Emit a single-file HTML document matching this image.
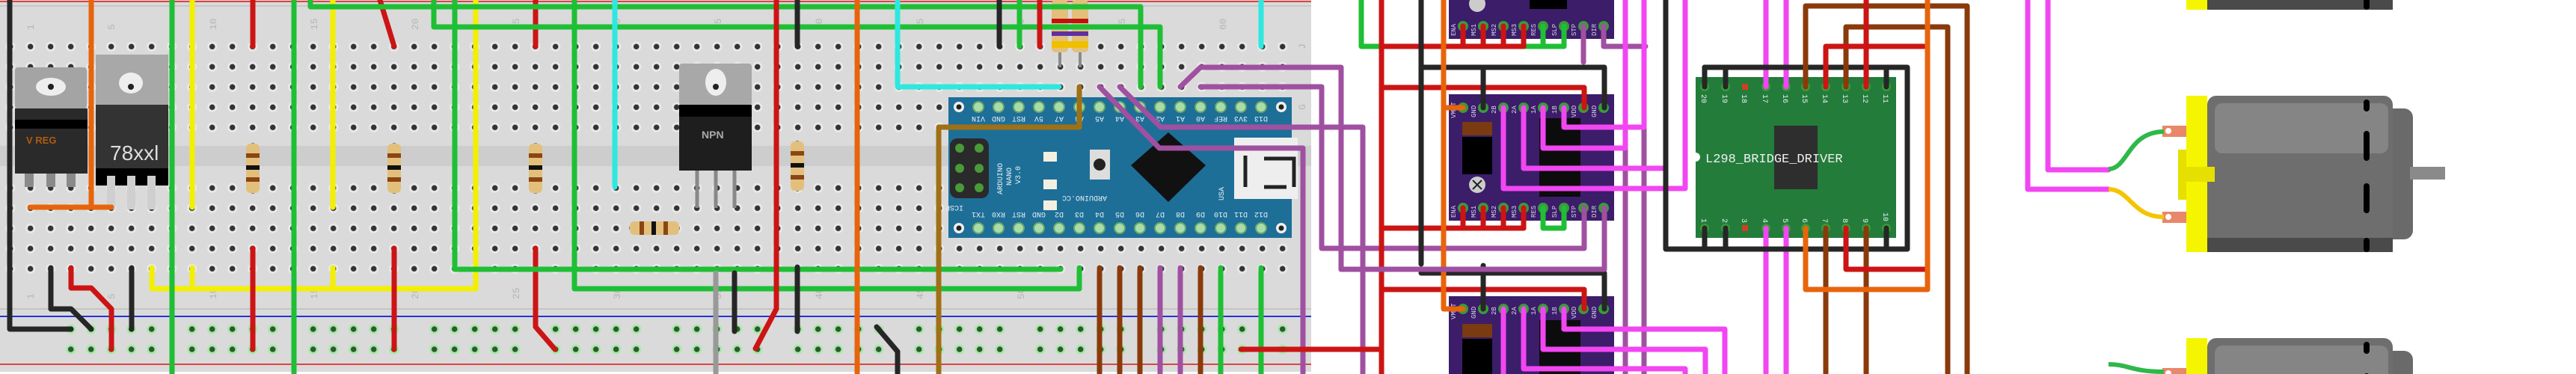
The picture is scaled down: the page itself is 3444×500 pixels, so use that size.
<!DOCTYPE html>
<html><head><meta charset="utf-8"><style>
html,body{margin:0;padding:0;background:#fff;width:3444px;height:500px;overflow:hidden}
svg{display:block;overflow:hidden}
.w{fill:none;stroke-width:7;stroke-linecap:round;stroke-linejoin:round}
.g{stroke:#1fbf35}.r{stroke:#cc1414}.k{stroke:#262626}.o{stroke:#e8640c}.y{stroke:#f2ef00}
.c{stroke:#2ee8e0}.b{stroke:#8a3a0a}.p{stroke:#a050a0}.m{stroke:#f246f2}.au{stroke:#a07015}.gr{stroke:#999}
.lbl{font-family:"Liberation Mono",monospace;fill:#b5b5b5;font-size:13px}
.dl{font-family:"Liberation Mono",monospace;fill:#d8d0e8;font-size:9px}
.al{font-family:"Liberation Mono",monospace;fill:#e8f0f4;font-size:10px}
</style></head><body>
<svg width="3444" height="500" viewBox="0 0 3444 500" xmlns="http://www.w3.org/2000/svg">
<defs>
<clipPath id="frame"><rect x="0" y="0" width="3444" height="500"/></clipPath>
<pattern id="hp" x="0.2" y="48.8" width="27" height="27" patternUnits="userSpaceOnUse">
<circle cx="13.5" cy="13.5" r="6.5" fill="#eaeaea"/><circle cx="13.5" cy="13.5" r="3.8" fill="#333"/></pattern>
<pattern id="rp" x="81.2" y="426.5" width="162" height="27" patternUnits="userSpaceOnUse">
<g fill="#a8e8a8"><circle cx="13.5" cy="13.5" r="6.5"/><circle cx="40.5" cy="13.5" r="6.5"/><circle cx="67.5" cy="13.5" r="6.5"/><circle cx="94.5" cy="13.5" r="6.5"/><circle cx="121.5" cy="13.5" r="6.5"/></g>
<g fill="#2d5a2d"><circle cx="13.5" cy="13.5" r="3.8"/><circle cx="40.5" cy="13.5" r="3.8"/><circle cx="67.5" cy="13.5" r="3.8"/><circle cx="94.5" cy="13.5" r="3.8"/><circle cx="121.5" cy="13.5" r="3.8"/></g></pattern>
<g id="motor">
<rect x="28" y="17" width="275" height="175" rx="12" fill="#6a6a6a"/>
<rect x="28" y="0" width="248" height="209" rx="12" fill="#6e6e6e"/>
<rect x="38" y="10" width="232" height="67" rx="10" fill="#858585"/>
<rect x="28" y="190" width="248" height="19" fill="#4a4a4a"/>
<rect x="237" y="5" width="8" height="16" rx="4" fill="#000"/>
<rect x="237" y="47" width="8" height="40" rx="4" fill="#000"/>
<rect x="237" y="117" width="8" height="40" rx="4" fill="#000"/>
<rect x="237" y="190" width="8" height="19" rx="4" fill="#000"/>
<rect x="299" y="95" width="47" height="17" fill="#8a8a8a"/>
<rect x="0" y="0" width="28" height="209" fill="#f5f500"/>
<rect x="-11" y="72" width="11" height="67" fill="#e6e000"/>
<rect x="0" y="95" width="38" height="20" fill="#e6e000"/>
<rect x="-32" y="40" width="32" height="15" fill="#e8876a"/><circle cx="-24" cy="47" r="4" fill="#fff"/>
<rect x="-32" y="155" width="32" height="15" fill="#e8876a"/><circle cx="-24" cy="162" r="4" fill="#fff"/>
</g>
<g id="res">
<line x1="0" y1="-34" x2="0" y2="34" stroke="#8a8a8a" stroke-width="4"/>
<rect x="-9" y="-33" width="18" height="66" rx="6" fill="#e2c07c"/>
<rect x="-9" y="-20" width="18" height="6" fill="#8b4513"/>
<rect x="-9" y="-4" width="18" height="6" fill="#111"/>
<rect x="-9" y="12" width="18" height="6" fill="#8b4513"/>
</g>
</defs>
<g clip-path="url(#frame)">
<!-- breadboard -->
<rect x="0" y="0" width="1753" height="497" fill="#dadada"/>
<line x1="0" y1="2" x2="1753" y2="2" stroke="#d44" stroke-width="2"/>
<line x1="0" y1="8" x2="1753" y2="8" stroke="#c8c8c8" stroke-width="2"/>
<rect x="0" y="195" width="1753" height="27" fill="#cdcdcd"/>
<line x1="0" y1="413" x2="1753" y2="413" stroke="#c4c4c4" stroke-width="2"/>
<line x1="0" y1="423" x2="1753" y2="423" stroke="#2233dd" stroke-width="2"/>
<line x1="0" y1="487" x2="1753" y2="487" stroke="#d44" stroke-width="2"/>
<rect x="0" y="48" width="1728" height="136" fill="url(#hp)"/>
<rect x="0" y="237" width="1728" height="136" fill="url(#hp)"/>
<rect x="81" y="426" width="1650" height="54" fill="url(#rp)"/>
<g class="lbl">
<text transform="translate(45,40) rotate(-90)">1</text><text transform="translate(153,40) rotate(-90)">5</text>
<text transform="translate(289,40) rotate(-90)">10</text><text transform="translate(424,40) rotate(-90)">15</text>
<text transform="translate(559,40) rotate(-90)">20</text><text transform="translate(694,40) rotate(-90)">25</text>
<text transform="translate(829,40) rotate(-90)">30</text><text transform="translate(964,40) rotate(-90)">35</text>
<text transform="translate(1099,40) rotate(-90)">40</text><text transform="translate(1234,40) rotate(-90)">45</text>
<text transform="translate(1369,40) rotate(-90)">50</text><text transform="translate(1504,40) rotate(-90)">55</text>
<text transform="translate(1639,40) rotate(-90)">60</text>
<text transform="translate(45,400) rotate(-90)">1</text><text transform="translate(153,400) rotate(-90)">5</text>
<text transform="translate(289,400) rotate(-90)">10</text><text transform="translate(424,400) rotate(-90)">15</text>
<text transform="translate(559,400) rotate(-90)">20</text><text transform="translate(694,400) rotate(-90)">25</text>
<text transform="translate(829,400) rotate(-90)">30</text><text transform="translate(964,400) rotate(-90)">35</text>
<text transform="translate(1099,400) rotate(-90)">40</text><text transform="translate(1234,400) rotate(-90)">45</text>
<text transform="translate(1369,400) rotate(-90)">50</text>
<text transform="translate(1745,66) rotate(-90)">J</text><text transform="translate(1745,147) rotate(-90)">G</text>
</g>

<!-- V REG -->
<rect x="20" y="90" width="96" height="56" rx="4" fill="#a4a4a4"/>
<ellipse cx="68" cy="116" rx="20" ry="12" fill="#eee"/><circle cx="68" cy="116" r="4" fill="#222"/>
<rect x="20" y="145" width="97" height="87" fill="#2a2a2a"/><rect x="20" y="160" width="97" height="12" fill="#000"/>
<text x="35" y="192" font-family="Liberation Sans,sans-serif" font-size="13" font-weight="bold" fill="#b05a10">V REG</text>
<g fill="#8a8a8a"><rect x="33" y="232" width="12" height="18"/><rect x="62" y="232" width="12" height="18"/><rect x="89" y="232" width="12" height="18"/></g>
<!-- 78xxl -->
<rect x="128" y="73" width="97" height="68" fill="#a8a8a8"/>
<ellipse cx="175" cy="111" rx="16" ry="14" fill="#eee"/><circle cx="175" cy="116" r="4" fill="#222"/>
<rect x="128" y="140" width="97" height="108" fill="#333"/><rect x="128" y="225" width="97" height="23" fill="#000"/>
<text x="147" y="214" font-family="Liberation Sans,sans-serif" font-size="28" fill="#ddd">78xxl</text>
<g fill="#cfcfcf"><rect x="143" y="235" width="11" height="45"/><rect x="170" y="235" width="11" height="45"/><rect x="197" y="235" width="11" height="45"/></g>
<!-- NPN -->
<rect x="908" y="85" width="97" height="56" rx="4" fill="#a8a8a8"/>
<ellipse cx="957" cy="110" rx="14" ry="18" fill="#eee"/><circle cx="957" cy="116" r="4" fill="#222"/>
<rect x="908" y="140" width="97" height="88" fill="#1e1e1e"/><rect x="908" y="140" width="97" height="16" fill="#000"/>
<text x="938" y="185" font-family="Liberation Sans,sans-serif" font-size="14" font-weight="bold" fill="#aaa">NPN</text>
<g stroke="#888" stroke-width="5"><line x1="932" y1="228" x2="932" y2="278"/><line x1="957" y1="228" x2="957" y2="278"/><line x1="982" y1="228" x2="982" y2="278"/></g>
<!-- resistors -->
<use href="#res" x="338" y="225"/><use href="#res" x="527" y="225"/><use href="#res" x="716" y="225"/><use href="#res" x="1066" y="222"/>
<g transform="translate(875,305) rotate(-90)"><use href="#res"/></g>
<g><line x1="1417" y1="0" x2="1417" y2="90" stroke="#8a8a8a" stroke-width="4"/><line x1="1444" y1="0" x2="1444" y2="90" stroke="#8a8a8a" stroke-width="4"/>
<rect x="1406" y="0" width="22" height="70" rx="5" fill="#e2c07c"/><rect x="1433" y="0" width="22" height="70" rx="5" fill="#e2c07c"/>
<g fill="#c01010"><rect x="1406" y="25" width="49" height="6"/></g><g fill="#6030a0"><rect x="1406" y="42" width="49" height="6"/></g><g fill="#f0c000"><rect x="1406" y="55" width="49" height="9"/></g></g>

<!-- Arduino -->
<rect x="1268" y="130" width="459" height="188" fill="#1d6f98"/>
<g fill="#a8dca8" stroke="#6aa66a" stroke-width="2">
<circle cx="1308" cy="143" r="7"/><circle cx="1335" cy="143" r="7"/><circle cx="1362" cy="143" r="7"/><circle cx="1389" cy="143" r="7"/><circle cx="1416" cy="143" r="7"/><circle cx="1443" cy="143" r="7"/><circle cx="1470" cy="143" r="7"/><circle cx="1497" cy="143" r="7"/><circle cx="1524" cy="143" r="7"/><circle cx="1551" cy="143" r="7"/><circle cx="1578" cy="143" r="7"/><circle cx="1605" cy="143" r="7"/><circle cx="1632" cy="143" r="7"/><circle cx="1659" cy="143" r="7"/><circle cx="1686" cy="143" r="7"/>
<circle cx="1308" cy="305" r="7"/><circle cx="1335" cy="305" r="7"/><circle cx="1362" cy="305" r="7"/><circle cx="1389" cy="305" r="7"/><circle cx="1416" cy="305" r="7"/><circle cx="1443" cy="305" r="7"/><circle cx="1470" cy="305" r="7"/><circle cx="1497" cy="305" r="7"/><circle cx="1524" cy="305" r="7"/><circle cx="1551" cy="305" r="7"/><circle cx="1578" cy="305" r="7"/><circle cx="1605" cy="305" r="7"/><circle cx="1632" cy="305" r="7"/><circle cx="1659" cy="305" r="7"/><circle cx="1686" cy="305" r="7"/></g>
<g fill="#eee"><circle cx="1282" cy="143" r="7"/><circle cx="1713" cy="143" r="7"/><circle cx="1282" cy="305" r="7"/><circle cx="1713" cy="305" r="7"/></g>
<g fill="#222"><circle cx="1282" cy="143" r="3.5"/><circle cx="1713" cy="143" r="3.5"/><circle cx="1282" cy="305" r="3.5"/><circle cx="1713" cy="305" r="3.5"/></g>
<g class="al" text-anchor="middle">
<text transform="translate(1308,156) rotate(180)">VIN</text><text transform="translate(1335,156) rotate(180)">GND</text><text transform="translate(1362,156) rotate(180)">RST</text><text transform="translate(1389,156) rotate(180)">5V</text><text transform="translate(1416,156) rotate(180)">A7</text><text transform="translate(1443,156) rotate(180)">A6</text><text transform="translate(1470,156) rotate(180)">A5</text><text transform="translate(1497,156) rotate(180)">A4</text><text transform="translate(1524,156) rotate(180)">A3</text><text transform="translate(1551,156) rotate(180)">A2</text><text transform="translate(1578,156) rotate(180)">A1</text><text transform="translate(1605,156) rotate(180)">A0</text><text transform="translate(1632,156) rotate(180)">REF</text><text transform="translate(1659,156) rotate(180)">3V3</text><text transform="translate(1686,156) rotate(180)">D13</text>
<text transform="translate(1308,284) rotate(180)">TX1</text><text transform="translate(1335,284) rotate(180)">RX0</text><text transform="translate(1362,284) rotate(180)">RST</text><text transform="translate(1389,284) rotate(180)">GND</text><text transform="translate(1416,284) rotate(180)">D2</text><text transform="translate(1443,284) rotate(180)">D3</text><text transform="translate(1470,284) rotate(180)">D4</text><text transform="translate(1497,284) rotate(180)">D5</text><text transform="translate(1524,284) rotate(180)">D6</text><text transform="translate(1551,284) rotate(180)">D7</text><text transform="translate(1578,284) rotate(180)">D8</text><text transform="translate(1605,284) rotate(180)">D9</text><text transform="translate(1632,284) rotate(180)">D10</text><text transform="translate(1659,284) rotate(180)">D11</text><text transform="translate(1686,284) rotate(180)">D12</text>
</g>
<rect x="1270" y="185" width="52" height="80" rx="10" fill="#2a2a2a"/>
<g fill="#4a9a3a"><circle cx="1283" cy="198" r="6"/><circle cx="1309" cy="198" r="6"/><circle cx="1283" cy="225" r="6"/><circle cx="1309" cy="225" r="6"/><circle cx="1283" cy="251" r="6"/><circle cx="1309" cy="251" r="6"/></g>
<text transform="translate(1340,260) rotate(-90)" class="al" font-size="12">ARDUINO</text>
<text transform="translate(1352,248) rotate(-90)" class="al" font-size="12">NANO</text>
<text transform="translate(1364,246) rotate(-90)" class="al" font-size="12">V3.0</text>
<text transform="translate(1288,275) rotate(180)" class="al">ICSP</text>
<g fill="#f4f0e0"><rect x="1395" y="203" width="18" height="13"/><rect x="1395" y="240" width="18" height="13"/><rect x="1395" y="268" width="18" height="13"/></g>
<rect x="1457" y="200" width="27" height="40" fill="#ddd"/><circle cx="1470" cy="220" r="8" fill="#222"/>
<text transform="translate(1480,262) rotate(180)" class="al">ARDUINO.CC</text>
<polygon points="1562,177 1612,221 1562,270 1512,221" fill="#111"/>
<rect x="1650" y="184" width="85" height="82" fill="#eee"/>
<path d="M1665,208 L1665,250 M1690,212 L1730,212 L1730,250 M1690,250 L1720,250" stroke="#222" stroke-width="5" fill="none"/>
<text transform="translate(1636,268) rotate(-90)" class="al">USA</text>

<!-- Driver boards -->
<g fill="#3b1d6a"><rect x="1937" y="0" width="221" height="52"/><rect x="1937" y="126" width="221" height="169"/><rect x="1937" y="396" width="221" height="104"/></g>
<g>
<circle cx="1975" cy="5" r="11" fill="#ccc"/><rect x="2045" y="0" width="50" height="12" fill="#000"/>
<rect x="1955" y="163" width="40" height="18" fill="#7a3a12"/><rect x="1955" y="183" width="40" height="25" fill="#000"/><rect x="1955" y="208" width="40" height="25" fill="#000"/>
<circle cx="1975" cy="247" r="11" fill="#ccc"/><path d="M1969,241 L1981,253 M1981,241 L1969,253" stroke="#222" stroke-width="2"/>
<rect x="2058" y="158" width="55" height="105" fill="#0c0c0c"/>
<rect x="1955" y="433" width="40" height="18" fill="#7a3a12"/><rect x="1955" y="453" width="40" height="25" fill="#000"/><rect x="1955" y="478" width="40" height="22" fill="#000"/>
<rect x="2058" y="428" width="55" height="72" fill="#0c0c0c"/>
</g>
<g fill="#3a9a3a">
<circle cx="1956" cy="35" r="7"/><circle cx="1983" cy="35" r="7"/><circle cx="2010" cy="35" r="7"/><circle cx="2037" cy="35" r="7"/><circle cx="2063" cy="35" r="7"/><circle cx="2091" cy="35" r="7"/><circle cx="2117" cy="35" r="7"/><circle cx="2144" cy="35" r="7"/>
<circle cx="1956" cy="144" r="7"/><circle cx="1983" cy="144" r="7"/><circle cx="2010" cy="144" r="7"/><circle cx="2037" cy="144" r="7"/><circle cx="2063" cy="144" r="7"/><circle cx="2091" cy="144" r="7"/><circle cx="2117" cy="144" r="7"/><circle cx="2144" cy="144" r="7"/>
<circle cx="1956" cy="278" r="7"/><circle cx="1983" cy="278" r="7"/><circle cx="2010" cy="278" r="7"/><circle cx="2037" cy="278" r="7"/><circle cx="2063" cy="278" r="7"/><circle cx="2091" cy="278" r="7"/><circle cx="2117" cy="278" r="7"/><circle cx="2144" cy="278" r="7"/>
<circle cx="1956" cy="413" r="7"/><circle cx="1983" cy="413" r="7"/><circle cx="2010" cy="413" r="7"/><circle cx="2037" cy="413" r="7"/><circle cx="2063" cy="413" r="7"/><circle cx="2091" cy="413" r="7"/><circle cx="2117" cy="413" r="7"/><circle cx="2144" cy="413" r="7"/>
</g>
<g class="dl">
<text transform="translate(1946,48) rotate(-90)">ENA</text><text transform="translate(1973,48) rotate(-90)">MS1</text><text transform="translate(2000,48) rotate(-90)">MS2</text><text transform="translate(2027,48) rotate(-90)">MS3</text><text transform="translate(2053,48) rotate(-90)">RES</text><text transform="translate(2081,48) rotate(-90)">SLP</text><text transform="translate(2107,48) rotate(-90)">STP</text><text transform="translate(2134,48) rotate(-90)">DIR</text>
<text transform="translate(1946,158) rotate(-90)">VMOT</text><text transform="translate(1973,157) rotate(-90)">GND</text><text transform="translate(2000,152) rotate(-90)">2B</text><text transform="translate(2027,152) rotate(-90)">2A</text><text transform="translate(2053,152) rotate(-90)">1A</text><text transform="translate(2081,152) rotate(-90)">1B</text><text transform="translate(2107,157) rotate(-90)">VDD</text><text transform="translate(2134,157) rotate(-90)">GND</text>
<text transform="translate(1946,291) rotate(-90)">ENA</text><text transform="translate(1973,291) rotate(-90)">MS1</text><text transform="translate(2000,291) rotate(-90)">MS2</text><text transform="translate(2027,291) rotate(-90)">MS3</text><text transform="translate(2053,291) rotate(-90)">RES</text><text transform="translate(2081,291) rotate(-90)">SLP</text><text transform="translate(2107,291) rotate(-90)">STP</text><text transform="translate(2134,291) rotate(-90)">DIR</text>
<text transform="translate(1946,427) rotate(-90)">VMOT</text><text transform="translate(1973,426) rotate(-90)">GND</text><text transform="translate(2000,421) rotate(-90)">2B</text><text transform="translate(2027,421) rotate(-90)">2A</text><text transform="translate(2053,421) rotate(-90)">1A</text><text transform="translate(2081,421) rotate(-90)">1B</text><text transform="translate(2107,426) rotate(-90)">VDD</text><text transform="translate(2134,426) rotate(-90)">GND</text>
</g>

<!-- L298 -->
<rect x="2267" y="103" width="268" height="215" fill="#237c3a"/>
<circle cx="2267" cy="210" r="6" fill="#fff"/>
<rect x="2372" y="168" width="58" height="85" fill="#2e2e2e"/>
<g fill="#3a9a3a">
<circle cx="2279" cy="116" r="6"/><circle cx="2307" cy="116" r="6"/><circle cx="2361" cy="116" r="6"/><circle cx="2388" cy="116" r="6"/><circle cx="2414" cy="116" r="6"/><circle cx="2441" cy="116" r="6"/><circle cx="2468" cy="116" r="6"/><circle cx="2495" cy="116" r="6"/><circle cx="2522" cy="116" r="6"/>
<circle cx="2279" cy="305" r="6"/><circle cx="2307" cy="305" r="6"/><circle cx="2361" cy="305" r="6"/><circle cx="2388" cy="305" r="6"/><circle cx="2414" cy="305" r="6"/><circle cx="2441" cy="305" r="6"/><circle cx="2468" cy="305" r="6"/><circle cx="2495" cy="305" r="6"/><circle cx="2522" cy="305" r="6"/></g>
<rect x="2329" y="112" width="8" height="8" fill="#d04020"/><rect x="2329" y="301" width="8" height="8" fill="#d04020"/>
<g class="al" fill="#eee">
<text transform="translate(2275,126) rotate(90)">20</text><text transform="translate(2303,126) rotate(90)">19</text><text transform="translate(2329,126) rotate(90)">18</text><text transform="translate(2357,126) rotate(90)">17</text><text transform="translate(2384,126) rotate(90)">16</text><text transform="translate(2410,126) rotate(90)">15</text><text transform="translate(2437,126) rotate(90)">14</text><text transform="translate(2464,126) rotate(90)">13</text><text transform="translate(2491,126) rotate(90)">12</text><text transform="translate(2518,126) rotate(90)">11</text>
<text transform="translate(2275,292) rotate(90)">1</text><text transform="translate(2303,292) rotate(90)">2</text><text transform="translate(2329,292) rotate(90)">3</text><text transform="translate(2357,292) rotate(90)">4</text><text transform="translate(2384,292) rotate(90)">5</text><text transform="translate(2410,292) rotate(90)">6</text><text transform="translate(2437,292) rotate(90)">7</text><text transform="translate(2464,292) rotate(90)">8</text><text transform="translate(2491,292) rotate(90)">9</text><text transform="translate(2518,284) rotate(90)">10</text>
</g>
<text x="2280" y="217" font-family="Liberation Mono,monospace" font-size="17" fill="#f0f0f0">L298_BRIDGE_DRIVER</text>

<!-- motors -->
<use href="#motor" x="2923" y="-196"/>
<use href="#motor" x="2923" y="128"/>
<use href="#motor" x="2923" y="452"/>

<!-- wires left -->
<g class="w">
<polyline class="o" points="122,0 122,277"/><polyline class="o" points="40,277 149,277"/>
<polyline class="k" points="13,0 13,440 95,440"/><polyline class="k" points="68,358 68,413 95,413 122,440"/><polyline class="k" points="176,358 176,440"/>
<polyline class="r" points="95,358 95,385 122,385 149,413 149,467"/>
<polyline class="y" points="257,0 257,277"/><polyline class="y" points="203,358 203,386 636,386"/><polyline class="y" points="257,358 257,386"/><polyline class="y" points="445,0 445,277"/><polyline class="y" points="445,358 445,386"/><polyline class="y" points="636,0 636,386"/>
<polyline class="g" points="230,0 230,500"/><polyline class="g" points="393,0 393,500"/>
<polyline class="r" points="338,0 338,62"/><polyline class="r" points="338,332 338,467"/><polyline class="r" points="508,0 527,62"/><polyline class="r" points="527,332 527,467"/><polyline class="r" points="716,0 716,62"/><polyline class="r" points="716,332 716,437 742,467"/>
<polyline class="g" points="415,0 415,9 1525,9 1525,116"/><polyline class="g" points="580,0 580,36 1551,36 1551,116"/>
<polyline class="g" points="608,0 608,360 1418,360"/><polyline class="g" points="768,0 768,386 1443,386 1443,358"/>
<polyline class="c" points="822,0 822,250"/><polyline class="c" points="1200,0 1200,116 1416,116"/><polyline class="c" points="1686,0 1686,62"/>
<polyline class="k" points="1066,0 1066,62"/><polyline class="k" points="1066,357 1066,443"/><polyline class="k" points="982,365 982,443"/><polyline class="k" points="1172,437 1200,470 1200,500"/>
<polyline class="r" points="1038,0 1038,413 1010,466"/>
<polyline class="o" points="1146,0 1146,500"/>
<polyline class="gr" points="957,365 957,500"/>
<polyline class="au" points="1255,500 1255,170 1443,170 1443,116"/>
<polyline class="g" points="1363,0 1363,62"/><polyline class="k" points="1336,0 1336,62"/><polyline class="r" points="1390,0 1390,62"/>
<polyline class="g" points="1632,358 1632,500"/><polyline class="g" points="1686,358 1686,500"/>
<polyline class="b" points="1470,358 1470,500"/><polyline class="b" points="1497,358 1497,500"/><polyline class="b" points="1524,358 1524,500"/><polyline class="b" points="1605,358 1605,500"/>
<polyline class="p" points="1551,358 1551,500"/><polyline class="p" points="1578,358 1578,500"/>
<polyline class="p" points="1470,116 1550,198 1742,198 1742,500"/><polyline class="p" points="1497,116 1552,170 1822,170 1822,500"/>
<polyline class="p" points="1578,116 1605,90 1793,90 1793,360 2145,360 2145,278"/><polyline class="p" points="1605,116 1767,116 1767,332 2118,332 2118,278"/>
<polyline class="r" points="1659,467 1847,467"/>
</g>
<!-- wires right -->
<g class="w">
<polyline class="g" points="1820,0 1820,62 2090,62"/><polyline class="g" points="2063,35 2063,62"/><polyline class="g" points="2091,35 2091,62"/>
<polyline class="r" points="1847,0 1847,500"/><polyline class="r" points="1847,62 2037,62"/>
<polyline class="r" points="1956,35 1956,62"/><polyline class="r" points="1983,35 1983,62"/><polyline class="r" points="2010,35 2010,62"/><polyline class="r" points="2037,35 2037,62"/>
<polyline class="r" points="1847,117 2118,117 2118,144"/>
<polyline class="r" points="1847,305 2037,305"/><polyline class="r" points="1956,278 1956,305"/><polyline class="r" points="1983,278 1983,305"/><polyline class="r" points="2010,278 2010,305"/><polyline class="r" points="2037,278 2037,305"/>
<polyline class="g" points="2063,278 2063,305 2091,305 2091,278"/>
<polyline class="r" points="1847,387 2118,387 2118,413"/>
<polyline class="k" points="1900,0 1900,353"/><polyline class="k" points="1900,90 2145,90 2145,144"/><polyline class="k" points="1983,90 1983,144"/>
<polyline class="k" points="1900,365 2145,365 2145,413"/><polyline class="k" points="1983,355 1983,413"/>
<polyline class="o" points="1930,0 1930,413 1956,413"/><polyline class="o" points="1930,144 1956,144"/>
<polyline class="p" points="2117,35 2117,83"/><polyline class="p" points="2144,35 2144,62 2200,62"/>
<polyline class="p" points="2173,198 2173,500"/><polyline class="p" points="2198,170 2198,500"/>
<polyline class="p" points="1793,360 2145,360"/>
<polyline class="m" points="2091,144 2091,170 2198,170 2198,0"/><polyline class="m" points="2063,144 2063,198 2173,198 2173,0"/>
<polyline class="m" points="2037,144 2037,225 2227,225"/><polyline class="m" points="2010,144 2010,252 2253,252 2253,0"/>
<polyline class="m" points="2091,413 2091,440 2306,440 2306,500"/><polyline class="m" points="2063,413 2063,467 2280,467 2280,500"/>
<polyline class="m" points="2037,413 2037,493 2253,493 2253,500"/><polyline class="m" points="2010,413 2010,500"/>
<polyline class="m" points="2361,0 2361,116"/><polyline class="m" points="2388,0 2388,116"/><polyline class="m" points="2361,305 2361,500"/><polyline class="m" points="2388,305 2388,500"/>
<polyline class="k" points="2227,0 2227,333 2550,333 2550,90 2279,90"/>
<polyline class="k" points="2279,90 2279,116"/><polyline class="k" points="2307,90 2307,116"/><polyline class="k" points="2522,90 2522,116"/>
<polyline class="k" points="2279,305 2279,333"/><polyline class="k" points="2307,305 2307,333"/><polyline class="k" points="2522,305 2522,333"/>
<polyline class="b" points="2414,116 2414,8 2630,8 2630,500"/><polyline class="b" points="2468,116 2468,36 2604,36 2604,500"/>
<polyline class="b" points="2441,305 2441,500"/><polyline class="b" points="2495,305 2495,500"/>
<polyline class="r" points="2495,0 2495,116"/><polyline class="r" points="2441,116 2441,62 2572,62"/><polyline class="r" points="2468,305 2468,360 2577,360"/>
<polyline class="o" points="2577,0 2577,387 2414,387 2414,305"/>
<polyline class="m" points="2711,0 2711,253 2819,253"/><polyline class="m" points="2738,0 2738,227 2819,227"/>
</g>
<path d="M2819,226 C2845,226 2845,176 2893,176" stroke="#2fb84a" stroke-width="6" fill="none"/>
<path d="M2819,253 C2848,253 2850,290 2893,290" stroke="#f5c400" stroke-width="6" fill="none"/>
<path d="M2819,487 C2845,487 2850,497 2893,497" stroke="#2fb84a" stroke-width="6" fill="none"/>
</g>
</svg>
</body></html>
